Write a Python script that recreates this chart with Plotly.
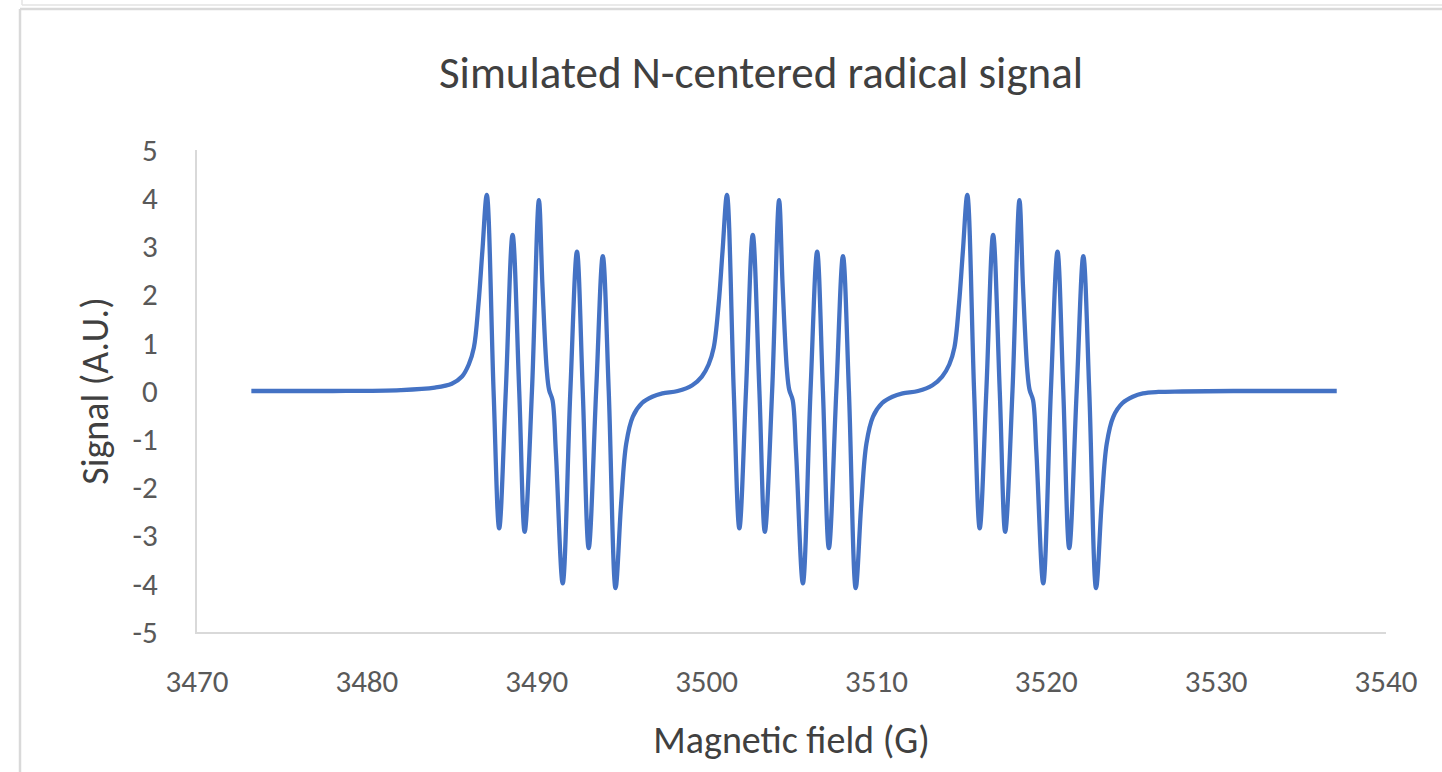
import plotly.graph_objects as go

# ---- data ----
field_g1 = [3473.2, 3478.0, 3482.0, 3484.0, 3485.0, 3485.6, 3486.0, 3486.3, 3486.57, 3486.8,
            3487.06, 3487.46, 3487.79, 3488.18, 3488.58, 3488.97, 3489.29, 3489.72, 3490.13,
            3490.34, 3490.59, 3490.73, 3490.93, 3491.13, 3491.53, 3491.98, 3492.37, 3492.71,
            3493.06, 3493.50, 3493.89, 3494.24, 3494.64, 3494.97, 3495.27, 3495.66, 3496.2,
            3496.8, 3497.4]
signal_g1 = [0.0, 0.0, 0.02, 0.07, 0.15, 0.30, 0.55, 0.9, 1.8, 2.9,
             4.07, 0.0, -2.85, 0.0, 3.24, 0.0, -2.92, 0.0, 3.96,
             2.16, 0.44, 0.02, -0.19, -1.29, -3.99, 0.0, 2.89, 0.0,
             -3.26, 0.0, 2.80, 0.0, -4.09, -2.33, -1.09, -0.53, -0.25,
             -0.12, -0.05]

field_g2 = [3498.3, 3499.16, 3499.72, 3500.12, 3500.42, 3500.71, 3500.94,
            3501.20, 3501.60, 3501.93, 3502.32, 3502.72, 3503.11, 3503.43, 3503.86, 3504.27,
            3504.48, 3504.73, 3504.87, 3505.07, 3505.27, 3505.67, 3506.12, 3506.51, 3506.85,
            3507.20, 3507.64, 3508.03, 3508.38, 3508.78, 3509.11, 3509.41, 3509.80, 3510.34,
            3510.94, 3511.54]
signal_g2 = [0.0, 0.12, 0.30, 0.55, 0.9, 1.8, 2.9,
             4.07, 0.0, -2.85, 0.0, 3.24, 0.0, -2.92, 0.0, 3.96,
             2.16, 0.44, 0.02, -0.19, -1.29, -3.99, 0.0, 2.89, 0.0,
             -3.26, 0.0, 2.80, 0.0, -4.09, -2.33, -1.09, -0.53, -0.25,
             -0.12, -0.05]

field_g3 = [3512.45, 3513.3, 3513.87, 3514.29, 3514.59, 3514.86, 3515.09,
            3515.35, 3515.75, 3516.08, 3516.47, 3516.87, 3517.26, 3517.58, 3518.01, 3518.42,
            3518.63, 3518.88, 3519.02, 3519.22, 3519.42, 3519.82, 3520.27, 3520.66, 3521.00,
            3521.35, 3521.79, 3522.18, 3522.53, 3522.93, 3523.26, 3523.56, 3523.95, 3524.49,
            3525.09, 3525.69, 3526.6, 3528.0, 3531.0, 3537.1]
signal_g3 = [0.0, 0.12, 0.30, 0.55, 0.9, 1.8, 2.9,
             4.07, 0.0, -2.85, 0.0, 3.24, 0.0, -2.92, 0.0, 3.96,
             2.16, 0.44, 0.02, -0.19, -1.29, -3.99, 0.0, 2.89, 0.0,
             -3.26, 0.0, 2.80, 0.0, -4.09, -2.33, -1.09, -0.53, -0.25,
             -0.12, -0.05, -0.02, -0.01, 0.0, 0.0]

x_ticks = [3470, 3480, 3490, 3500, 3510, 3520, 3530, 3540]
y_ticks = [-5, -4, -3, -2, -1, 0, 1, 2, 3, 4, 5]

field = field_g1 + field_g2 + field_g3
signal = signal_g1 + signal_g2 + signal_g3

FONT = "Carlito, Calibri, Lato, sans-serif"
W, H = 1442, 772
L, R, T, B = 197, 56, 150, 140

fig = go.Figure()
fig.add_trace(go.Scatter(
    x=field, y=signal, mode="lines",
    line=dict(color="#4472C4", width=4.3, shape="spline", smoothing=1.0),
    hoverinfo="x+y", showlegend=False,
))

def px_x(p):
    return (p - L) / (W - L - R)

def px_y(p):
    return (H - B - p) / (H - T - B)

border = "#D9D9D9"
fig.update_layout(
    width=W, height=H,
    margin=dict(l=L, r=R, t=T, b=B, pad=0),
    paper_bgcolor="white", plot_bgcolor="white",
    font=dict(family=FONT, color="#595959"),
    title=dict(text="Simulated N-centered radical signal",
               x=761 / W, xanchor="center", xref="container",
               y=1 - 72 / H, yanchor="middle", yref="container",
               font=dict(family=FONT, size=45, color="#404040")),
    xaxis=dict(range=[3470, 3540], tickvals=x_ticks, ticktext=[str(v) for v in x_ticks],
               showgrid=False, zeroline=False, showline=True, linecolor="#D9D9D9", linewidth=2,
               ticks="", ticklabelstandoff=21,
               tickfont=dict(family=FONT, size=31, color="#595959"),
               title=dict(text="Magnetic field (G)", standoff=27,
                          font=dict(family=FONT, size=38, color="#404040"))),
    yaxis=dict(range=[-5, 5], tickvals=y_ticks, ticktext=[str(v) for v in y_ticks],
               showgrid=False, zeroline=False, showline=True, linecolor="#D9D9D9", linewidth=2,
               ticks="", ticklabelstandoff=31,
               tickfont=dict(family=FONT, size=31, color="#595959"),
               title=dict(text="Signal (A.U.)", standoff=12,
                          font=dict(family=FONT, size=38, color="#404040"))),
    shapes=[
        dict(type="line", xref="paper", yref="paper",
             x0=px_x(20), x1=px_x(W + 5), y0=px_y(9), y1=px_y(9),
             line=dict(color=border, width=2.5)),
        dict(type="line", xref="paper", yref="paper",
             x0=px_x(20), x1=px_x(20), y0=px_y(9), y1=px_y(H + 5),
             line=dict(color=border, width=2.5)),
        dict(type="line", xref="paper", yref="paper",
             x0=px_x(22), x1=px_x(W + 5), y0=px_y(5), y1=px_y(5),
             line=dict(color="#E3E3E3", width=1.5)),
        dict(type="line", xref="paper", yref="paper",
             x0=px_x(22), x1=px_x(22), y0=px_y(-2), y1=px_y(5),
             line=dict(color="#E3E3E3", width=1.5)),
    ],
)

fig.write_html("out.html")
